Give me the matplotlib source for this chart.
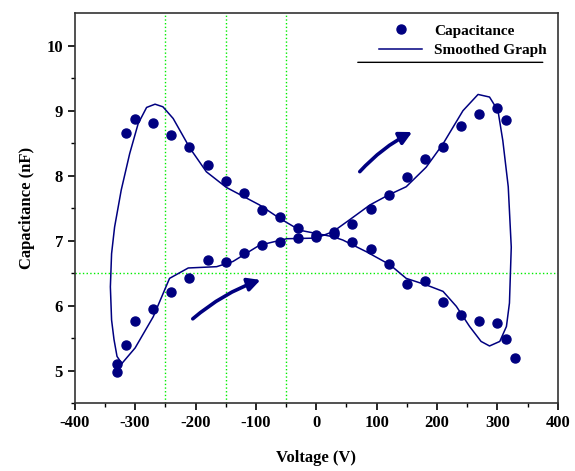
import matplotlib
matplotlib.use('Agg')
import matplotlib.pyplot as plt
from matplotlib.patches import FancyArrowPatch

# measured points: forward sweep (-330 -> 330) and reverse sweep (330 -> -330)
v_fwd = [-330, -315, -300, -270, -240, -210, -180, -150, -120, -90, -60, -30,
         0, 30, 60, 90, 120, 150, 180, 210, 240, 270, 300, 315, 330]
c_fwd = [4.98, 5.40, 5.77, 5.95, 6.21, 6.43, 6.71, 6.67, 6.81, 6.94, 6.98, 7.04,
         7.06, 7.13, 7.25, 7.48, 7.70, 7.98, 8.26, 8.44, 8.76, 8.95, 9.04, 8.85, 5.20]
v_rev = [315, 300, 270, 240, 210, 180, 150, 120, 90, 60, 30, 0,
         -30, -60, -90, -120, -150, -180, -210, -240, -270, -300, -315, -330]
c_rev = [5.49, 5.74, 5.77, 5.85, 6.06, 6.38, 6.34, 6.64, 6.87, 6.98, 7.10, 7.08,
         7.20, 7.37, 7.47, 7.73, 7.92, 8.16, 8.44, 8.63, 8.81, 8.87, 8.65, 5.11]

# smoothed loop
v_smooth = [-322, -300, -270, -243, -212, -165, -138, -94, -49, 0, 28, 55, 89, 119,
            149, 182, 210, 243, 268, 287, 301, 309, 318, 323, 320, 315, 304, 287,
            273, 254, 232, 210, 182, 149, 122, 83, 44, 28, -27, -60, -94, -149,
            -182, -209, -237, -254, -267, -281, -295, -309, -323, -334, -339, -341,
            -339, -335, -330, -322]
c_smooth = [5.11, 5.35, 5.83, 6.42, 6.58, 6.60, 6.68, 6.93, 7.03, 7.04, 7.14, 7.32,
            7.55, 7.70, 7.83, 8.13, 8.49, 9.00, 9.25, 9.21, 9.00, 8.54, 7.83, 6.90,
            6.04, 5.68, 5.45, 5.38, 5.45, 5.68, 5.99, 6.22, 6.32, 6.42, 6.63, 6.83,
            7.01, 7.06, 7.16, 7.34, 7.55, 7.82, 8.06, 8.42, 8.88, 9.06, 9.10, 9.05,
            8.80, 8.34, 7.78, 7.21, 6.80, 6.29, 5.78, 5.48, 5.22, 5.11]

guide_v = [-250, -150, -50]
guide_c = 6.5

plt.rcParams['font.family'] = ['Liberation Serif', 'DejaVu Serif']
plt.rcParams['font.weight'] = 'bold'
plt.rcParams['axes.unicode_minus'] = False

fig = plt.figure(figsize=(5.75, 4.71), dpi=100)
ax = fig.add_axes([0.130, 0.144, 0.840, 0.828])

navy = '#000080'
for v in guide_v:
    ax.axvline(v, color='#00ee00', ls=':', lw=1.0, zorder=1)
ax.axhline(guide_c, color='#00ee00', ls=':', lw=1.0, zorder=1)

ax.plot(v_fwd + v_rev, c_fwd + c_rev, 'o', color=navy, ms=6.5, ls='none',
        label='Capacitance', zorder=3)
ax.plot(v_smooth, c_smooth, '-', color=navy, lw=1.1, label='Smoothed Graph', zorder=2)

for tail, head in [((-208, 5.77), (-88, 6.41)), ((69, 8.03), (163, 8.69))]:
    ax.add_patch(FancyArrowPatch(tail, head, connectionstyle='arc3,rad=-0.1',
                                 arrowstyle='-|>,head_length=5,head_width=2.6',
                                 color=navy, lw=2.6, mutation_scale=1.5, zorder=4))

ax.set_xlim(-400, 400)
ax.set_ylim(4.5, 10.5)
ax.set_xticks(range(-400, 401, 100))
ax.set_xticks(range(-350, 400, 100), minor=True)
ax.set_yticks(range(5, 11))
ax.set_yticks([4.5, 5.5, 6.5, 7.5, 8.5, 9.5], minor=True)
ax.tick_params(which='major', length=5, width=1.2, labelsize=12, direction='out')
ax.tick_params(which='minor', length=3, width=1.0, direction='out')
for lab in ax.get_xticklabels() + ax.get_yticklabels():
    lab.set_fontweight('bold')
for s in ax.spines.values():
    s.set_linewidth(1.2)
    s.set_color('#333333')

ax.set_xlabel('Voltage (V)', fontsize=12, fontweight='bold', labelpad=14)
ax.set_ylabel('Capacitance (nF)', fontsize=12, fontweight='bold', labelpad=8)

leg = ax.legend(loc='upper right', frameon=False, fontsize=11, handlelength=2.8,
                borderaxespad=0.3, labelspacing=0.4)
ax.annotate('', xy=(0.969, 0.874), xytext=(0.586, 0.874), xycoords='axes fraction',
            arrowprops=dict(arrowstyle='-', color='black', lw=1.0, shrinkA=0, shrinkB=0))

fig.savefig('out.png', dpi=100)
